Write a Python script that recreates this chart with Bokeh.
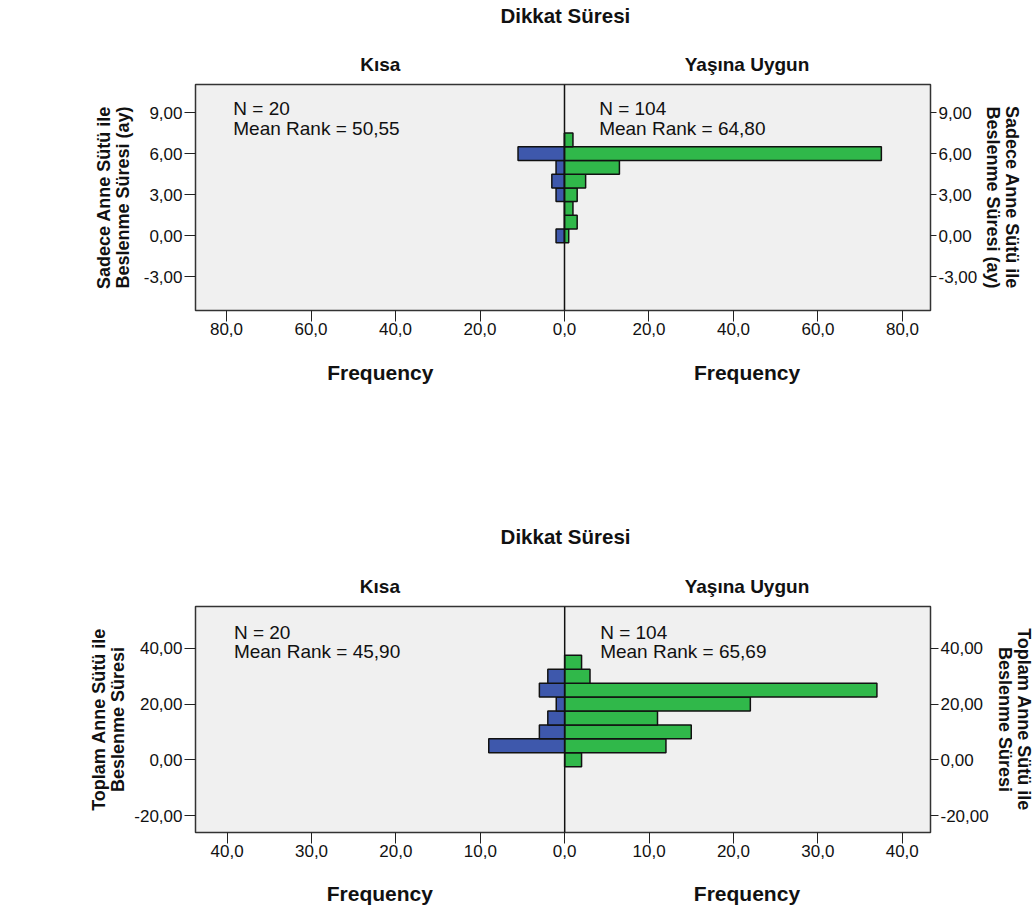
from bokeh.plotting import figure
from bokeh.models import Range1d, FixedTicker, LinearAxis, Label, Span, ColumnDataSource
from bokeh.layouts import column
from bokeh.embed import file_html
from bokeh.resources import INLINE

FONT = "Liberation Sans"

# ---- shared texts ----
title_text = "Dikkat Süresi"
group_names = ["Kısa", "Yaşına Uygun"]
x_axis_title = "Frequency"

# ---- chart 1 : Sadece Anne Sütü ile Beslenme Süresi (ay) ----
c1_bins = [0, 1, 2, 3, 4, 5, 6, 7]
c1_kisa = [2, 0, 0, 2, 3, 2, 11, 0]
c1_yasina = [1, 3, 2, 3, 5, 13, 75, 2]
c1_n = [20, 104]
c1_rank = ["50,55", "64,80"]
c1_yticks = [-3, 0, 3, 6, 9]
c1_xticks = [-80, -60, -40, -20, 0, 20, 40, 60, 80]
c1_ylabel = "Sadece Anne Sütü ile\nBeslenme Süresi (ay)"

# ---- chart 2 : Toplam Anne Sütü ile Beslenme Süresi ----
c2_bins = [0, 5, 10, 15, 20, 25, 30, 35]
c2_kisa = [0, 9, 3, 2, 1, 3, 2, 0]
c2_yasina = [2, 12, 15, 11, 22, 37, 3, 2]
c2_n = [20, 104]
c2_rank = ["45,90", "65,69"]
c2_yticks = [-20, 0, 20, 40]
c2_xticks = [-40, -30, -20, -10, 0, 10, 20, 30, 40]
c2_ylabel = "Toplam Anne Sütü ile\nBeslenme Süresi"

BLUE = "#3e58ac"
GREEN = "#30b84a"
TXT = "#111111"


def text_axis(p, side, ticks, labels, size, standoff):
    ax = LinearAxis()
    ax.ticker = FixedTicker(ticks=list(ticks))
    ax.major_label_overrides = dict(zip(ticks, labels))
    ax.major_tick_line_color = None
    ax.minor_tick_line_color = None
    ax.axis_line_color = None
    ax.major_tick_in = 0
    ax.major_tick_out = 0
    ax.major_label_standoff = standoff
    ax.major_label_text_font = FONT
    ax.major_label_text_font_size = size
    ax.major_label_text_font_style = "bold"
    ax.major_label_text_color = TXT
    p.add_layout(ax, side)
    return ax


def make_chart(bins, kisa, yasina, n, rank, yticks, xticks, ylabel,
               height, mb_top, mb_bottom, xr, yr,
               group_x, title_x, ann_x, ann_y,
               grp_standoff, title_standoff, freq_standoff,
               r_tick_out, l_lab_standoff, r_lab_standoff):
    p = figure(width=1036, height=height, output_backend="svg",
               toolbar_location=None, x_range=Range1d(*xr), y_range=Range1d(*yr),
               min_border_top=mb_top, min_border_bottom=mb_bottom,
               min_border_left=195, min_border_right=106)
    p.background_fill_color = "#f0f0f0"
    p.border_fill_color = "white"
    p.outline_line_color = "#333333"
    p.outline_line_width = 1.5
    p.grid.visible = False

    bh = bins[1] - bins[0]
    src = ColumnDataSource(dict(y=bins, kl=[-v for v in kisa], kr=[0] * len(bins),
                                yl=[0] * len(bins), yr=yasina))
    p.hbar(y="y", left="kl", right="kr", height=bh, source=src,
           fill_color=BLUE, line_color="#111111", line_width=1.5)
    p.hbar(y="y", left="yl", right="yr", height=bh, source=src,
           fill_color=GREEN, line_color="#111111", line_width=1.5)
    p.add_layout(Span(location=0, dimension="height", line_color="#111111", line_width=1.5))

    ylab = {v: f"{v},00" for v in yticks}
    xlab = {v: f"{abs(v)},0" for v in xticks}

    # x axis with frequency ticks
    xa = p.xaxis[0]
    xa.ticker = FixedTicker(ticks=xticks)
    xa.major_label_overrides = xlab
    xa.minor_tick_line_color = None
    xa.axis_line_color = None
    xa.major_tick_in = 0
    xa.major_tick_out = 11
    xa.major_tick_line_color = "#222222"
    xa.major_label_standoff = 1
    xa.major_label_text_font = FONT
    xa.major_label_text_font_size = "17px"
    xa.major_label_text_color = TXT

    # "Frequency" under each half
    text_axis(p, "below", group_x, [x_axis_title, x_axis_title], "21px", freq_standoff)
    # group names above each half, then overall title
    text_axis(p, "above", group_x, group_names, "19px", grp_standoff)
    text_axis(p, "above", [title_x], [title_text], "20.5px", title_standoff)

    # y axes
    ya = p.yaxis[0]
    ra = LinearAxis()
    p.add_layout(ra, "right")
    for ax, tout, lst in ((ya, 11, l_lab_standoff), (ra, r_tick_out, r_lab_standoff)):
        ax.ticker = FixedTicker(ticks=yticks)
        ax.major_label_overrides = ylab
        ax.minor_tick_line_color = None
        ax.axis_line_color = None
        ax.major_tick_in = 0
        ax.major_tick_out = tout
        ax.major_tick_line_color = "#222222"
        ax.major_label_standoff = 2
        ax.major_label_text_font = FONT
        ax.major_label_text_font_size = "17px"
        ax.major_label_text_color = TXT
        ax.axis_label = ylabel
        ax.axis_label_text_font = FONT
        ax.axis_label_text_font_size = "18px"
        ax.axis_label_text_font_style = "bold"
        ax.axis_label_text_color = TXT
        ax.axis_label_text_line_height = 0.95
        ax.axis_label_standoff = lst

    for ax_, nn, rr in zip(ann_x, n, rank):
        p.add_layout(Label(x=ax_, y=ann_y, text=f"N = {nn}\nMean Rank = {rr}", text_font=FONT,
                           text_font_size="19px", text_align="left", text_baseline="top",
                           text_line_height=0.95, text_color=TXT))
    return p


p1 = make_chart(c1_bins, c1_kisa, c1_yasina, c1_n, c1_rank, c1_yticks, c1_xticks, c1_ylabel,
                height=420, mb_top=83, mb_bottom=110,
                xr=(-87.34, 86.63), yr=(-5.45, 11.05),
                group_x=(-43.6, 43.2), title_x=0.2, ann_x=(-78.4, 8.2), ann_y=10.05,
                grp_standoff=10, title_standoff=24, freq_standoff=23,
                r_tick_out=6, l_lab_standoff=8, r_lab_standoff=3)

p2 = make_chart(c2_bins, c2_kisa, c2_yasina, c2_n, c2_rank, c2_yticks, c2_xticks, c2_ylabel,
                height=492, mb_top=186, mb_bottom=80,
                xr=(-43.75, 43.35), yr=(-26.1, 55.0),
                group_x=(-21.9, 21.6), title_x=0.1, ann_x=(-39.2, 4.2), ann_y=49.6,
                grp_standoff=10, title_standoff=25, freq_standoff=22,
                r_tick_out=8, l_lab_standoff=3, r_lab_standoff=3)

layout = column(p1, p2, spacing=0)
open("out.html", "w").write(file_html(layout, INLINE))
